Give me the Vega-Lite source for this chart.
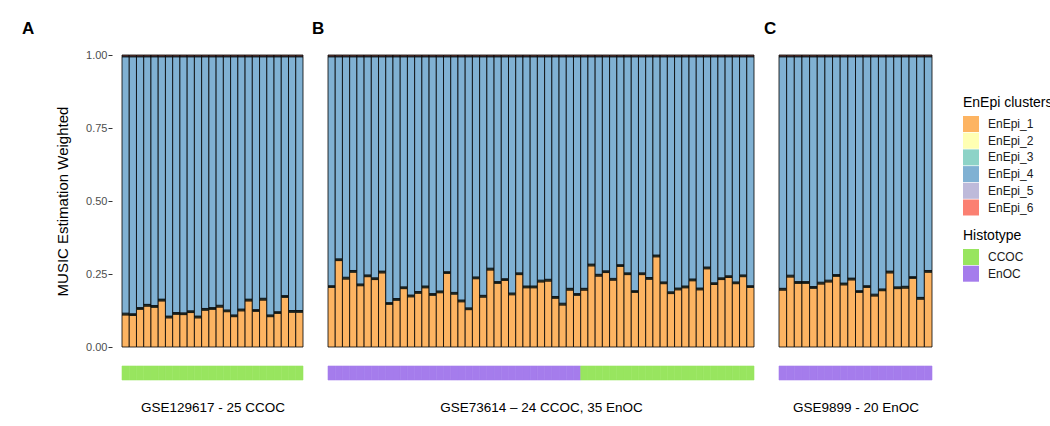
{
"$schema": "https://vega.github.io/schema/vega-lite/v6.json",
"autosize": "none",
"padding": {"left": 122, "top": 55, "right": 928, "bottom": 371},
"background": "white",
"bounds": "flush",
"columns": 3,
"spacing": {"row": 19, "column": 25},
"config": {
  "font": "Liberation Sans",
  "view": {"stroke": null},
  "axis": {"grid": false, "labelFont": "Liberation Sans", "titleFont": "Liberation Sans"},
  "legend": {"titleFont": "Liberation Sans", "labelFont": "Liberation Sans", "titleFontSize": 14, "titleFontWeight": "normal", "titleColor": "black", "labelFontSize": 12, "labelColor": "#1a1a1a", "symbolType": "square", "symbolSize": 256, "symbolStrokeWidth": 0, "symbolOpacity": 1, "rowPadding": 0.7, "labelOffset": 9, "titlePadding": 6, "padding": 0, "orient": "none"},
  "title": {"font": "Liberation Sans", "fontSize": 17, "fontWeight": "bold", "color": "black", "anchor": "start", "frame": "group", "baseline": "bottom"}
},
"datasets": {
"A": [
{"i":1,"h":"CCOC","EnEpi_1":0.110,"EnEpi_2":0.003,"EnEpi_3":0.003,"EnEpi_4":0.878,"EnEpi_5":0.003,"EnEpi_6":0.003},
{"i":2,"h":"CCOC","EnEpi_1":0.108,"EnEpi_2":0.003,"EnEpi_3":0.003,"EnEpi_4":0.880,"EnEpi_5":0.003,"EnEpi_6":0.003},
{"i":3,"h":"CCOC","EnEpi_1":0.129,"EnEpi_2":0.003,"EnEpi_3":0.003,"EnEpi_4":0.859,"EnEpi_5":0.003,"EnEpi_6":0.003},
{"i":4,"h":"CCOC","EnEpi_1":0.140,"EnEpi_2":0.003,"EnEpi_3":0.003,"EnEpi_4":0.848,"EnEpi_5":0.003,"EnEpi_6":0.003},
{"i":5,"h":"CCOC","EnEpi_1":0.136,"EnEpi_2":0.003,"EnEpi_3":0.003,"EnEpi_4":0.852,"EnEpi_5":0.003,"EnEpi_6":0.003},
{"i":6,"h":"CCOC","EnEpi_1":0.158,"EnEpi_2":0.003,"EnEpi_3":0.003,"EnEpi_4":0.830,"EnEpi_5":0.003,"EnEpi_6":0.003},
{"i":7,"h":"CCOC","EnEpi_1":0.100,"EnEpi_2":0.003,"EnEpi_3":0.003,"EnEpi_4":0.888,"EnEpi_5":0.003,"EnEpi_6":0.003},
{"i":8,"h":"CCOC","EnEpi_1":0.112,"EnEpi_2":0.003,"EnEpi_3":0.003,"EnEpi_4":0.876,"EnEpi_5":0.003,"EnEpi_6":0.003},
{"i":9,"h":"CCOC","EnEpi_1":0.111,"EnEpi_2":0.003,"EnEpi_3":0.003,"EnEpi_4":0.877,"EnEpi_5":0.003,"EnEpi_6":0.003},
{"i":10,"h":"CCOC","EnEpi_1":0.118,"EnEpi_2":0.003,"EnEpi_3":0.003,"EnEpi_4":0.870,"EnEpi_5":0.003,"EnEpi_6":0.003},
{"i":11,"h":"CCOC","EnEpi_1":0.100,"EnEpi_2":0.003,"EnEpi_3":0.003,"EnEpi_4":0.888,"EnEpi_5":0.003,"EnEpi_6":0.003},
{"i":12,"h":"CCOC","EnEpi_1":0.126,"EnEpi_2":0.003,"EnEpi_3":0.003,"EnEpi_4":0.862,"EnEpi_5":0.003,"EnEpi_6":0.003},
{"i":13,"h":"CCOC","EnEpi_1":0.129,"EnEpi_2":0.003,"EnEpi_3":0.003,"EnEpi_4":0.859,"EnEpi_5":0.003,"EnEpi_6":0.003},
{"i":14,"h":"CCOC","EnEpi_1":0.137,"EnEpi_2":0.003,"EnEpi_3":0.003,"EnEpi_4":0.851,"EnEpi_5":0.003,"EnEpi_6":0.003},
{"i":15,"h":"CCOC","EnEpi_1":0.121,"EnEpi_2":0.003,"EnEpi_3":0.003,"EnEpi_4":0.867,"EnEpi_5":0.003,"EnEpi_6":0.003},
{"i":16,"h":"CCOC","EnEpi_1":0.104,"EnEpi_2":0.003,"EnEpi_3":0.003,"EnEpi_4":0.884,"EnEpi_5":0.003,"EnEpi_6":0.003},
{"i":17,"h":"CCOC","EnEpi_1":0.124,"EnEpi_2":0.003,"EnEpi_3":0.003,"EnEpi_4":0.864,"EnEpi_5":0.003,"EnEpi_6":0.003},
{"i":18,"h":"CCOC","EnEpi_1":0.158,"EnEpi_2":0.003,"EnEpi_3":0.003,"EnEpi_4":0.830,"EnEpi_5":0.003,"EnEpi_6":0.003},
{"i":19,"h":"CCOC","EnEpi_1":0.122,"EnEpi_2":0.003,"EnEpi_3":0.003,"EnEpi_4":0.866,"EnEpi_5":0.003,"EnEpi_6":0.003},
{"i":20,"h":"CCOC","EnEpi_1":0.161,"EnEpi_2":0.003,"EnEpi_3":0.003,"EnEpi_4":0.827,"EnEpi_5":0.003,"EnEpi_6":0.003},
{"i":21,"h":"CCOC","EnEpi_1":0.104,"EnEpi_2":0.003,"EnEpi_3":0.003,"EnEpi_4":0.884,"EnEpi_5":0.003,"EnEpi_6":0.003},
{"i":22,"h":"CCOC","EnEpi_1":0.115,"EnEpi_2":0.003,"EnEpi_3":0.003,"EnEpi_4":0.873,"EnEpi_5":0.003,"EnEpi_6":0.003},
{"i":23,"h":"CCOC","EnEpi_1":0.170,"EnEpi_2":0.003,"EnEpi_3":0.003,"EnEpi_4":0.818,"EnEpi_5":0.003,"EnEpi_6":0.003},
{"i":24,"h":"CCOC","EnEpi_1":0.119,"EnEpi_2":0.003,"EnEpi_3":0.003,"EnEpi_4":0.869,"EnEpi_5":0.003,"EnEpi_6":0.003},
{"i":25,"h":"CCOC","EnEpi_1":0.119,"EnEpi_2":0.003,"EnEpi_3":0.003,"EnEpi_4":0.869,"EnEpi_5":0.003,"EnEpi_6":0.003}
],
"B": [
{"i":1,"h":"EnOC","EnEpi_1":0.204,"EnEpi_2":0.003,"EnEpi_3":0.003,"EnEpi_4":0.784,"EnEpi_5":0.003,"EnEpi_6":0.003},
{"i":2,"h":"EnOC","EnEpi_1":0.296,"EnEpi_2":0.003,"EnEpi_3":0.003,"EnEpi_4":0.692,"EnEpi_5":0.003,"EnEpi_6":0.003},
{"i":3,"h":"EnOC","EnEpi_1":0.233,"EnEpi_2":0.003,"EnEpi_3":0.003,"EnEpi_4":0.755,"EnEpi_5":0.003,"EnEpi_6":0.003},
{"i":4,"h":"EnOC","EnEpi_1":0.256,"EnEpi_2":0.003,"EnEpi_3":0.003,"EnEpi_4":0.732,"EnEpi_5":0.003,"EnEpi_6":0.003},
{"i":5,"h":"EnOC","EnEpi_1":0.210,"EnEpi_2":0.003,"EnEpi_3":0.003,"EnEpi_4":0.778,"EnEpi_5":0.003,"EnEpi_6":0.003},
{"i":6,"h":"EnOC","EnEpi_1":0.241,"EnEpi_2":0.003,"EnEpi_3":0.003,"EnEpi_4":0.747,"EnEpi_5":0.003,"EnEpi_6":0.003},
{"i":7,"h":"EnOC","EnEpi_1":0.231,"EnEpi_2":0.003,"EnEpi_3":0.003,"EnEpi_4":0.757,"EnEpi_5":0.003,"EnEpi_6":0.003},
{"i":8,"h":"EnOC","EnEpi_1":0.254,"EnEpi_2":0.003,"EnEpi_3":0.003,"EnEpi_4":0.734,"EnEpi_5":0.003,"EnEpi_6":0.003},
{"i":9,"h":"EnOC","EnEpi_1":0.146,"EnEpi_2":0.003,"EnEpi_3":0.003,"EnEpi_4":0.842,"EnEpi_5":0.003,"EnEpi_6":0.003},
{"i":10,"h":"EnOC","EnEpi_1":0.160,"EnEpi_2":0.003,"EnEpi_3":0.003,"EnEpi_4":0.828,"EnEpi_5":0.003,"EnEpi_6":0.003},
{"i":11,"h":"EnOC","EnEpi_1":0.200,"EnEpi_2":0.003,"EnEpi_3":0.003,"EnEpi_4":0.788,"EnEpi_5":0.003,"EnEpi_6":0.003},
{"i":12,"h":"EnOC","EnEpi_1":0.172,"EnEpi_2":0.003,"EnEpi_3":0.003,"EnEpi_4":0.816,"EnEpi_5":0.003,"EnEpi_6":0.003},
{"i":13,"h":"EnOC","EnEpi_1":0.184,"EnEpi_2":0.003,"EnEpi_3":0.003,"EnEpi_4":0.804,"EnEpi_5":0.003,"EnEpi_6":0.003},
{"i":14,"h":"EnOC","EnEpi_1":0.203,"EnEpi_2":0.003,"EnEpi_3":0.003,"EnEpi_4":0.785,"EnEpi_5":0.003,"EnEpi_6":0.003},
{"i":15,"h":"EnOC","EnEpi_1":0.177,"EnEpi_2":0.003,"EnEpi_3":0.003,"EnEpi_4":0.811,"EnEpi_5":0.003,"EnEpi_6":0.003},
{"i":16,"h":"EnOC","EnEpi_1":0.186,"EnEpi_2":0.003,"EnEpi_3":0.003,"EnEpi_4":0.802,"EnEpi_5":0.003,"EnEpi_6":0.003},
{"i":17,"h":"EnOC","EnEpi_1":0.252,"EnEpi_2":0.003,"EnEpi_3":0.003,"EnEpi_4":0.736,"EnEpi_5":0.003,"EnEpi_6":0.003},
{"i":18,"h":"EnOC","EnEpi_1":0.181,"EnEpi_2":0.003,"EnEpi_3":0.003,"EnEpi_4":0.807,"EnEpi_5":0.003,"EnEpi_6":0.003},
{"i":19,"h":"EnOC","EnEpi_1":0.155,"EnEpi_2":0.003,"EnEpi_3":0.003,"EnEpi_4":0.833,"EnEpi_5":0.003,"EnEpi_6":0.003},
{"i":20,"h":"EnOC","EnEpi_1":0.128,"EnEpi_2":0.003,"EnEpi_3":0.003,"EnEpi_4":0.860,"EnEpi_5":0.003,"EnEpi_6":0.003},
{"i":21,"h":"EnOC","EnEpi_1":0.234,"EnEpi_2":0.003,"EnEpi_3":0.003,"EnEpi_4":0.754,"EnEpi_5":0.003,"EnEpi_6":0.003},
{"i":22,"h":"EnOC","EnEpi_1":0.171,"EnEpi_2":0.003,"EnEpi_3":0.003,"EnEpi_4":0.817,"EnEpi_5":0.003,"EnEpi_6":0.003},
{"i":23,"h":"EnOC","EnEpi_1":0.264,"EnEpi_2":0.003,"EnEpi_3":0.003,"EnEpi_4":0.724,"EnEpi_5":0.003,"EnEpi_6":0.003},
{"i":24,"h":"EnOC","EnEpi_1":0.218,"EnEpi_2":0.003,"EnEpi_3":0.003,"EnEpi_4":0.770,"EnEpi_5":0.003,"EnEpi_6":0.003},
{"i":25,"h":"EnOC","EnEpi_1":0.228,"EnEpi_2":0.003,"EnEpi_3":0.003,"EnEpi_4":0.760,"EnEpi_5":0.003,"EnEpi_6":0.003},
{"i":26,"h":"EnOC","EnEpi_1":0.179,"EnEpi_2":0.003,"EnEpi_3":0.003,"EnEpi_4":0.809,"EnEpi_5":0.003,"EnEpi_6":0.003},
{"i":27,"h":"EnOC","EnEpi_1":0.248,"EnEpi_2":0.003,"EnEpi_3":0.003,"EnEpi_4":0.740,"EnEpi_5":0.003,"EnEpi_6":0.003},
{"i":28,"h":"EnOC","EnEpi_1":0.203,"EnEpi_2":0.003,"EnEpi_3":0.003,"EnEpi_4":0.785,"EnEpi_5":0.003,"EnEpi_6":0.003},
{"i":29,"h":"EnOC","EnEpi_1":0.203,"EnEpi_2":0.003,"EnEpi_3":0.003,"EnEpi_4":0.785,"EnEpi_5":0.003,"EnEpi_6":0.003},
{"i":30,"h":"EnOC","EnEpi_1":0.223,"EnEpi_2":0.003,"EnEpi_3":0.003,"EnEpi_4":0.765,"EnEpi_5":0.003,"EnEpi_6":0.003},
{"i":31,"h":"EnOC","EnEpi_1":0.226,"EnEpi_2":0.003,"EnEpi_3":0.003,"EnEpi_4":0.762,"EnEpi_5":0.003,"EnEpi_6":0.003},
{"i":32,"h":"EnOC","EnEpi_1":0.167,"EnEpi_2":0.003,"EnEpi_3":0.003,"EnEpi_4":0.821,"EnEpi_5":0.003,"EnEpi_6":0.003},
{"i":33,"h":"EnOC","EnEpi_1":0.144,"EnEpi_2":0.003,"EnEpi_3":0.003,"EnEpi_4":0.844,"EnEpi_5":0.003,"EnEpi_6":0.003},
{"i":34,"h":"EnOC","EnEpi_1":0.195,"EnEpi_2":0.003,"EnEpi_3":0.003,"EnEpi_4":0.793,"EnEpi_5":0.003,"EnEpi_6":0.003},
{"i":35,"h":"EnOC","EnEpi_1":0.177,"EnEpi_2":0.003,"EnEpi_3":0.003,"EnEpi_4":0.811,"EnEpi_5":0.003,"EnEpi_6":0.003},
{"i":36,"h":"CCOC","EnEpi_1":0.195,"EnEpi_2":0.003,"EnEpi_3":0.003,"EnEpi_4":0.793,"EnEpi_5":0.003,"EnEpi_6":0.003},
{"i":37,"h":"CCOC","EnEpi_1":0.278,"EnEpi_2":0.003,"EnEpi_3":0.003,"EnEpi_4":0.710,"EnEpi_5":0.003,"EnEpi_6":0.003},
{"i":38,"h":"CCOC","EnEpi_1":0.243,"EnEpi_2":0.003,"EnEpi_3":0.003,"EnEpi_4":0.745,"EnEpi_5":0.003,"EnEpi_6":0.003},
{"i":39,"h":"CCOC","EnEpi_1":0.255,"EnEpi_2":0.003,"EnEpi_3":0.003,"EnEpi_4":0.733,"EnEpi_5":0.003,"EnEpi_6":0.003},
{"i":40,"h":"CCOC","EnEpi_1":0.229,"EnEpi_2":0.003,"EnEpi_3":0.003,"EnEpi_4":0.759,"EnEpi_5":0.003,"EnEpi_6":0.003},
{"i":41,"h":"CCOC","EnEpi_1":0.276,"EnEpi_2":0.003,"EnEpi_3":0.003,"EnEpi_4":0.712,"EnEpi_5":0.003,"EnEpi_6":0.003},
{"i":42,"h":"CCOC","EnEpi_1":0.248,"EnEpi_2":0.003,"EnEpi_3":0.003,"EnEpi_4":0.740,"EnEpi_5":0.003,"EnEpi_6":0.003},
{"i":43,"h":"CCOC","EnEpi_1":0.187,"EnEpi_2":0.003,"EnEpi_3":0.003,"EnEpi_4":0.801,"EnEpi_5":0.003,"EnEpi_6":0.003},
{"i":44,"h":"CCOC","EnEpi_1":0.248,"EnEpi_2":0.003,"EnEpi_3":0.003,"EnEpi_4":0.740,"EnEpi_5":0.003,"EnEpi_6":0.003},
{"i":45,"h":"CCOC","EnEpi_1":0.232,"EnEpi_2":0.003,"EnEpi_3":0.003,"EnEpi_4":0.756,"EnEpi_5":0.003,"EnEpi_6":0.003},
{"i":46,"h":"CCOC","EnEpi_1":0.309,"EnEpi_2":0.003,"EnEpi_3":0.003,"EnEpi_4":0.679,"EnEpi_5":0.003,"EnEpi_6":0.003},
{"i":47,"h":"CCOC","EnEpi_1":0.217,"EnEpi_2":0.003,"EnEpi_3":0.003,"EnEpi_4":0.771,"EnEpi_5":0.003,"EnEpi_6":0.003},
{"i":48,"h":"CCOC","EnEpi_1":0.183,"EnEpi_2":0.003,"EnEpi_3":0.003,"EnEpi_4":0.805,"EnEpi_5":0.003,"EnEpi_6":0.003},
{"i":49,"h":"CCOC","EnEpi_1":0.196,"EnEpi_2":0.003,"EnEpi_3":0.003,"EnEpi_4":0.792,"EnEpi_5":0.003,"EnEpi_6":0.003},
{"i":50,"h":"CCOC","EnEpi_1":0.203,"EnEpi_2":0.003,"EnEpi_3":0.003,"EnEpi_4":0.785,"EnEpi_5":0.003,"EnEpi_6":0.003},
{"i":51,"h":"CCOC","EnEpi_1":0.227,"EnEpi_2":0.003,"EnEpi_3":0.003,"EnEpi_4":0.761,"EnEpi_5":0.003,"EnEpi_6":0.003},
{"i":52,"h":"CCOC","EnEpi_1":0.196,"EnEpi_2":0.003,"EnEpi_3":0.003,"EnEpi_4":0.792,"EnEpi_5":0.003,"EnEpi_6":0.003},
{"i":53,"h":"CCOC","EnEpi_1":0.268,"EnEpi_2":0.003,"EnEpi_3":0.003,"EnEpi_4":0.720,"EnEpi_5":0.003,"EnEpi_6":0.003},
{"i":54,"h":"CCOC","EnEpi_1":0.214,"EnEpi_2":0.003,"EnEpi_3":0.003,"EnEpi_4":0.774,"EnEpi_5":0.003,"EnEpi_6":0.003},
{"i":55,"h":"CCOC","EnEpi_1":0.231,"EnEpi_2":0.003,"EnEpi_3":0.003,"EnEpi_4":0.757,"EnEpi_5":0.003,"EnEpi_6":0.003},
{"i":56,"h":"CCOC","EnEpi_1":0.238,"EnEpi_2":0.003,"EnEpi_3":0.003,"EnEpi_4":0.750,"EnEpi_5":0.003,"EnEpi_6":0.003},
{"i":57,"h":"CCOC","EnEpi_1":0.217,"EnEpi_2":0.003,"EnEpi_3":0.003,"EnEpi_4":0.771,"EnEpi_5":0.003,"EnEpi_6":0.003},
{"i":58,"h":"CCOC","EnEpi_1":0.241,"EnEpi_2":0.003,"EnEpi_3":0.003,"EnEpi_4":0.747,"EnEpi_5":0.003,"EnEpi_6":0.003},
{"i":59,"h":"CCOC","EnEpi_1":0.204,"EnEpi_2":0.003,"EnEpi_3":0.003,"EnEpi_4":0.784,"EnEpi_5":0.003,"EnEpi_6":0.003}
],
"C": [
{"i":1,"h":"EnOC","EnEpi_1":0.195,"EnEpi_2":0.003,"EnEpi_3":0.003,"EnEpi_4":0.793,"EnEpi_5":0.003,"EnEpi_6":0.003},
{"i":2,"h":"EnOC","EnEpi_1":0.240,"EnEpi_2":0.003,"EnEpi_3":0.003,"EnEpi_4":0.748,"EnEpi_5":0.003,"EnEpi_6":0.003},
{"i":3,"h":"EnOC","EnEpi_1":0.218,"EnEpi_2":0.003,"EnEpi_3":0.003,"EnEpi_4":0.770,"EnEpi_5":0.003,"EnEpi_6":0.003},
{"i":4,"h":"EnOC","EnEpi_1":0.218,"EnEpi_2":0.003,"EnEpi_3":0.003,"EnEpi_4":0.770,"EnEpi_5":0.003,"EnEpi_6":0.003},
{"i":5,"h":"EnOC","EnEpi_1":0.201,"EnEpi_2":0.003,"EnEpi_3":0.003,"EnEpi_4":0.787,"EnEpi_5":0.003,"EnEpi_6":0.003},
{"i":6,"h":"EnOC","EnEpi_1":0.216,"EnEpi_2":0.003,"EnEpi_3":0.003,"EnEpi_4":0.772,"EnEpi_5":0.003,"EnEpi_6":0.003},
{"i":7,"h":"EnOC","EnEpi_1":0.223,"EnEpi_2":0.003,"EnEpi_3":0.003,"EnEpi_4":0.765,"EnEpi_5":0.003,"EnEpi_6":0.003},
{"i":8,"h":"EnOC","EnEpi_1":0.242,"EnEpi_2":0.003,"EnEpi_3":0.003,"EnEpi_4":0.746,"EnEpi_5":0.003,"EnEpi_6":0.003},
{"i":9,"h":"EnOC","EnEpi_1":0.213,"EnEpi_2":0.003,"EnEpi_3":0.003,"EnEpi_4":0.775,"EnEpi_5":0.003,"EnEpi_6":0.003},
{"i":10,"h":"EnOC","EnEpi_1":0.230,"EnEpi_2":0.003,"EnEpi_3":0.003,"EnEpi_4":0.758,"EnEpi_5":0.003,"EnEpi_6":0.003},
{"i":11,"h":"EnOC","EnEpi_1":0.187,"EnEpi_2":0.003,"EnEpi_3":0.003,"EnEpi_4":0.801,"EnEpi_5":0.003,"EnEpi_6":0.003},
{"i":12,"h":"EnOC","EnEpi_1":0.204,"EnEpi_2":0.003,"EnEpi_3":0.003,"EnEpi_4":0.784,"EnEpi_5":0.003,"EnEpi_6":0.003},
{"i":13,"h":"EnOC","EnEpi_1":0.175,"EnEpi_2":0.003,"EnEpi_3":0.003,"EnEpi_4":0.813,"EnEpi_5":0.003,"EnEpi_6":0.003},
{"i":14,"h":"EnOC","EnEpi_1":0.193,"EnEpi_2":0.003,"EnEpi_3":0.003,"EnEpi_4":0.795,"EnEpi_5":0.003,"EnEpi_6":0.003},
{"i":15,"h":"EnOC","EnEpi_1":0.254,"EnEpi_2":0.003,"EnEpi_3":0.003,"EnEpi_4":0.734,"EnEpi_5":0.003,"EnEpi_6":0.003},
{"i":16,"h":"EnOC","EnEpi_1":0.200,"EnEpi_2":0.003,"EnEpi_3":0.003,"EnEpi_4":0.788,"EnEpi_5":0.003,"EnEpi_6":0.003},
{"i":17,"h":"EnOC","EnEpi_1":0.202,"EnEpi_2":0.003,"EnEpi_3":0.003,"EnEpi_4":0.786,"EnEpi_5":0.003,"EnEpi_6":0.003},
{"i":18,"h":"EnOC","EnEpi_1":0.235,"EnEpi_2":0.003,"EnEpi_3":0.003,"EnEpi_4":0.753,"EnEpi_5":0.003,"EnEpi_6":0.003},
{"i":19,"h":"EnOC","EnEpi_1":0.164,"EnEpi_2":0.003,"EnEpi_3":0.003,"EnEpi_4":0.824,"EnEpi_5":0.003,"EnEpi_6":0.003},
{"i":20,"h":"EnOC","EnEpi_1":0.256,"EnEpi_2":0.003,"EnEpi_3":0.003,"EnEpi_4":0.732,"EnEpi_5":0.003,"EnEpi_6":0.003}
]
},
"resolve": {"scale": {"x": "independent", "y": "independent", "color": "shared", "fill": "shared", "stroke": "shared"}},
"concat": [
 {
  "width": 181, "height": 292,
  "data": {"name": "A"},
  "title": {"text": "A", "dx": -100, "offset": 11},
  "transform": [{"fold": ["EnEpi_1","EnEpi_2","EnEpi_3","EnEpi_4","EnEpi_5","EnEpi_6"], "as": ["cluster","value"]}],
  "mark": {"type": "bar", "stroke": "black", "strokeWidth": 0.8},
  "encoding": {
   "x": {"field": "i", "type": "ordinal", "scale": {"paddingInner": 0, "paddingOuter": 0}, "axis": null},
   "y": {"field": "value", "type": "quantitative", "stack": "zero", "scale": {"domain": [0,1], "nice": false, "zero": true},
         "axis": {"title": "MUSIC Estimation Weighted", "values": [0,0.25,0.5,0.75,1], "format": ".2f", "domain": false, "offset": 10, "tickSize": 4, "tickColor": "#333333", "tickWidth": 1, "labelFontSize": 11, "labelColor": "#4d4d4d", "labelPadding": 1, "titleFontSize": 15, "titleFontWeight": "normal", "titleColor": "black", "titlePadding": 15}},
   "color": {"field": "cluster", "type": "nominal",
             "scale": {"domain": ["EnEpi_1","EnEpi_2","EnEpi_3","EnEpi_4","EnEpi_5","EnEpi_6"], "range": ["#FDB462","#FFFFB3","#8DD3C7","#80B1D3","#BEBADA","#FB8072"]},
             "legend": {"title": "EnEpi clusters", "legendX": 841, "legendY": 41}},
   "order": {"field": "cluster", "sort": "ascending"}
  }
 },
 {
  "width": 426, "height": 292,
  "data": {"name": "B"},
  "title": {"text": "B", "dx": -16, "offset": 17},
  "transform": [{"fold": ["EnEpi_1","EnEpi_2","EnEpi_3","EnEpi_4","EnEpi_5","EnEpi_6"], "as": ["cluster","value"]}],
  "mark": {"type": "bar", "stroke": "black", "strokeWidth": 0.8},
  "encoding": {
   "x": {"field": "i", "type": "ordinal", "scale": {"paddingInner": 0, "paddingOuter": 0}, "axis": null},
   "y": {"field": "value", "type": "quantitative", "stack": "zero", "scale": {"domain": [0,1], "nice": false}, "axis": null},
   "color": {"field": "cluster", "type": "nominal"},
   "order": {"field": "cluster", "sort": "ascending"}
  }
 },
 {
  "width": 153, "height": 292,
  "data": {"name": "C"},
  "title": {"text": "C", "dx": -15, "offset": 17},
  "transform": [{"fold": ["EnEpi_1","EnEpi_2","EnEpi_3","EnEpi_4","EnEpi_5","EnEpi_6"], "as": ["cluster","value"]}],
  "mark": {"type": "bar", "stroke": "black", "strokeWidth": 0.8},
  "encoding": {
   "x": {"field": "i", "type": "ordinal", "scale": {"paddingInner": 0, "paddingOuter": 0}, "axis": null},
   "y": {"field": "value", "type": "quantitative", "stack": "zero", "scale": {"domain": [0,1], "nice": false}, "axis": null},
   "color": {"field": "cluster", "type": "nominal"},
   "order": {"field": "cluster", "sort": "ascending"}
  }
 },
 {
  "width": 181, "height": 14,
  "data": {"name": "A"},
  "mark": {"type": "rect", "strokeWidth": 0.6},
  "encoding": {
   "x": {"field": "i", "type": "ordinal", "scale": {"paddingInner": 0, "paddingOuter": 0},
         "axis": {"title": "GSE129617 - 25 CCOC", "labels": false, "ticks": false, "domain": false, "titleFontSize": 13.5, "titleFontWeight": "normal", "titleColor": "black", "titlePadding": 20}},
   "fill": {"field": "h", "type": "nominal", "scale": {"domain": ["CCOC","EnOC"], "range": ["#98E55F","#A57CEC"]},
            "legend": {"title": "Histotype", "legendX": 841, "legendY": 174}},
   "stroke": {"field": "h", "type": "nominal", "scale": {"domain": ["CCOC","EnOC"], "range": ["#98E55F","#A57CEC"]}, "legend": null}
  }
 },
 {
  "width": 426, "height": 14,
  "data": {"name": "B"},
  "mark": {"type": "rect", "strokeWidth": 0.6},
  "encoding": {
   "x": {"field": "i", "type": "ordinal", "scale": {"paddingInner": 0, "paddingOuter": 0},
         "axis": {"title": "GSE73614 – 24 CCOC, 35 EnOC", "labels": false, "ticks": false, "domain": false, "titleFontSize": 13.5, "titleFontWeight": "normal", "titleColor": "black", "titlePadding": 20}},
   "fill": {"field": "h", "type": "nominal"},
   "stroke": {"field": "h", "type": "nominal", "legend": null}
  }
 },
 {
  "width": 153, "height": 14,
  "data": {"name": "C"},
  "mark": {"type": "rect", "strokeWidth": 0.6},
  "encoding": {
   "x": {"field": "i", "type": "ordinal", "scale": {"paddingInner": 0, "paddingOuter": 0},
         "axis": {"title": "GSE9899 - 20 EnOC", "labels": false, "ticks": false, "domain": false, "titleFontSize": 13.5, "titleFontWeight": "normal", "titleColor": "black", "titlePadding": 20}},
   "fill": {"field": "h", "type": "nominal"},
   "stroke": {"field": "h", "type": "nominal", "legend": null}
  }
 }
]
}
